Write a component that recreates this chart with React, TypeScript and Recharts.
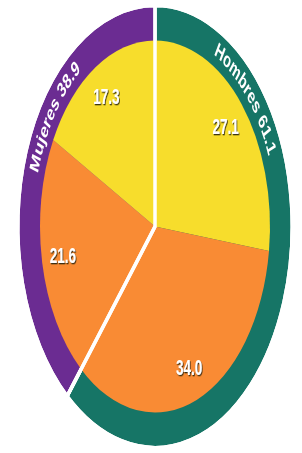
import { PieChart, Pie, Cell } from 'recharts';

// Outer ring: share by sex
const groupNames = ['Hombres', 'Mujeres'];
const groupValues = [61.1, 38.9];
const groupColors = ['#167566', '#6b2c92'];

// Inner pie: two categories within each sex (clockwise from the top)
const innerValues = [27.1, 34.0, 21.6, 17.3];
const innerColors = ['#f7dd2c', '#f98b34', '#f98b34', '#f7dd2c'];

const groupData = groupNames.map((name, i) => ({ name, value: groupValues[i] }));
const innerData = innerValues.map((value, i) => ({ name: `c${i}`, value }));

const RADIAN = Math.PI / 180;
const FONT = '"Liberation Sans", Arial, sans-serif';
const CX = 155;
const CY = 140;

const renderInnerLabel = (props: any) => {
  const { cx, cy, midAngle, value } = props;
  const r = 94;
  const x = cx + r * Math.cos(-midAngle * RADIAN);
  const y = cy + r * Math.sin(-midAngle * RADIAN);
  return (
    <text x={x} y={y} textAnchor="middle" dominantBaseline="central"
      fill="#ffffff" fontSize={13.5} fontWeight="bold" fontFamily={FONT}
      filter="url(#label-shadow)">
      {Number(value).toFixed(1)}
    </text>
  );
};

// curved label along the ring, set near the top divider of each sector
const renderRingLabel = (props: any) => {
  const { cx, cy, name, value, index, midAngle } = props;
  const onRight = Math.cos(-midAngle * RADIAN) > 0;
  const center = onRight ? 41 : 146;
  const span = 45;
  const r = 121.5;
  const a1 = (center + span) * RADIAN;
  const a2 = (center - span) * RADIAN;
  const x1 = cx + r * Math.cos(a1);
  const y1 = cy - r * Math.sin(a1);
  const x2 = cx + r * Math.cos(a2);
  const y2 = cy - r * Math.sin(a2);
  const id = `ring-path-${index}`;
  return (
    <g>
      <path id={id} d={`M ${x1} ${y1} A ${r} ${r} 0 0 1 ${x2} ${y2}`} fill="none" stroke="none" />
      <text fill="#ffffff" fontSize={13} fontWeight="bold" fontFamily={FONT}>
        <textPath href={`#${id}`} startOffset="50%" textAnchor="middle">
          {`${name} ${Number(value).toFixed(1)}`}
        </textPath>
      </text>
    </g>
  );
};

export default function App() {
  return (
    <div style={{ position: 'absolute', left: 0, top: 0, width: 302, height: 453, overflow: 'hidden', background: '#fff' }}>
      <svg width={0} height={0} style={{ position: 'absolute' }}>
        <defs>
          <filter id="label-shadow" x="-20%" y="-20%" width="140%" height="140%">
            <feDropShadow dx={0.8} dy={0.8} stdDeviation={0.4} floodColor="#2b2410" floodOpacity={0.9} />
          </filter>
        </defs>
      </svg>
      <div style={{ transform: 'scale(1, 1.618)', transformOrigin: '0 0' }}>
        <PieChart width={302} height={280} margin={{ top: 0, right: 0, bottom: 0, left: 0 }}>
          <Pie
            data={groupData}
            dataKey="value"
            cx={CX}
            cy={CY}
            innerRadius={0}
            outerRadius={137}
            startAngle={90}
            endAngle={-270}
            stroke="#ffffff"
            strokeWidth={3}
            label={renderRingLabel}
            labelLine={false}
            isAnimationActive={false}
          >
            {groupData.map((d, i) => (
              <Cell key={d.name} fill={groupColors[i]} />
            ))}
          </Pie>
          <Pie
            data={innerData}
            dataKey="value"
            cx={CX}
            cy={CY}
            innerRadius={0}
            outerRadius={115}
            startAngle={90}
            endAngle={-270}
            stroke="none"
            label={renderInnerLabel}
            labelLine={false}
            isAnimationActive={false}
          >
            {innerData.map((d, i) => (
              <Cell key={d.name} fill={innerColors[i]} />
            ))}
          </Pie>
          <Pie
            data={groupData}
            dataKey="value"
            cx={CX}
            cy={CY}
            innerRadius={0}
            outerRadius={137}
            startAngle={90}
            endAngle={-270}
            fill="none"
            stroke="#ffffff"
            strokeWidth={3}
            isAnimationActive={false}
          >
            {groupData.map((d) => (
              <Cell key={d.name} fill="none" />
            ))}
          </Pie>
        </PieChart>
      </div>
    </div>
  );
}
